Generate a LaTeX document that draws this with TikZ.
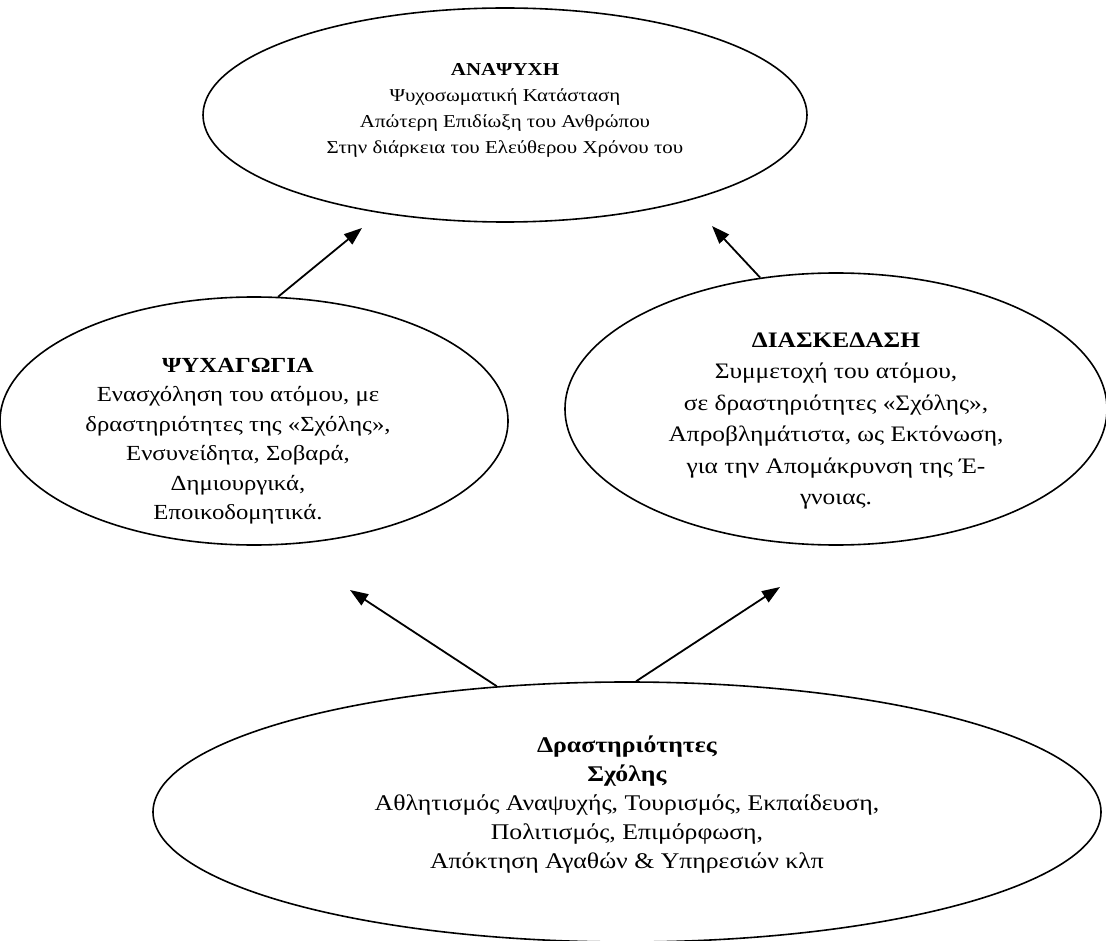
\documentclass[tikz,border=0pt]{standalone}
\usepackage{fontspec}
\setmainfont[FakeStretch=1.15]{Liberation Serif}
\usetikzlibrary{positioning,shapes.geometric,arrows.meta,calc}
\tikzset{every picture/.style={>={Triangle[length=18pt,width=13pt]},line width=1.6pt}}
\tikzset{bubble/.style={ellipse,draw,inner sep=0pt}}
\tikzset{bubbletext/.style={align=center,inner sep=0pt}}
\tikzset{flow/.style={->,line width=1.8pt}}

\begin{document}
\begin{tikzpicture}[x=1pt,y=-1pt]
      \useasboundingbox (0,0) rectangle (1106,941);
      % the four ellipses
      \node[bubble,minimum width=604pt,minimum height=214pt] (anapsyxi) at (505,115) {};
      \node[bubble,minimum width=508pt,minimum height=248pt] (psyxagogia) at (254,421) {};
      \node[bubble,minimum width=542pt,minimum height=272pt] (diaskedasi) at (836,409) {};
      \node[bubble,minimum width=948pt,minimum height=260pt] (scholi) at (627,812) {};
      % their texts
      \node[bubbletext,font=\fontsize{18.2}{26}\selectfont] (anapsyxi-txt) at ($(anapsyxi)+(0,-5)$)
        {\textbf{ΑΝΑΨΥΧΗ}\\Ψυχοσωματική Κατάσταση\\Απώτερη Επιδίωξη του Ανθρώπου\\Στην διάρκεια του Ελεύθερου Χρόνου του};
      \node[bubbletext,font=\fontsize{21.5}{29.5}\selectfont] (psyxagogia-txt) at ($(psyxagogia)+(-16,20)$)
        {\textbf{ΨΥΧΑΓΩΓΙΑ}\\Ενασχόληση του ατόμου, με\\δραστηριότητες της «Σχόλης»,\\Ενσυνείδητα, Σοβαρά,\\Δημιουργικά,\\Εποικοδομητικά.};
      \node[bubbletext,font=\fontsize{22.1}{31.5}\selectfont] (diaskedasi-txt) at ($(diaskedasi)+(0,12)$)
        {\textbf{ΔΙΑΣΚΕΔΑΣΗ}\\Συμμετοχή του ατόμου,\\σε δραστηριότητες «Σχόλης»,\\Απροβλημάτιστα, ως Εκτόνωση,\\για την Απομάκρυνση της Έ-\\γνοιας.};
      \node[bubbletext,font=\fontsize{22.4}{29}\selectfont] (scholi-txt) at ($(scholi)+(0,-7)$)
        {\textbf{Δραστηριότητες}\\\textbf{Σχόλης}\\Αθλητισμός Αναψυχής, Τουρισμός, Εκπαίδευση,\\Πολιτισμός, Επιμόρφωση,\\Απόκτηση Αγαθών \& Υπηρεσιών κλπ};
      % arrows
      \coordinate (tipA) at (362,228);
      \coordinate (tipB) at (712,226);
      \coordinate (tipC) at (350,590);
      \coordinate (tipD) at (780,587);
      \draw[flow] (psyxagogia.79) -- (tipA);
      \draw[flow] (diaskedasi.120) -- (tipB);
      \draw[flow] (scholi.136) -- (tipC);
      \draw[flow] (scholi.86) -- (tipD);
\end{tikzpicture}
\end{document}
